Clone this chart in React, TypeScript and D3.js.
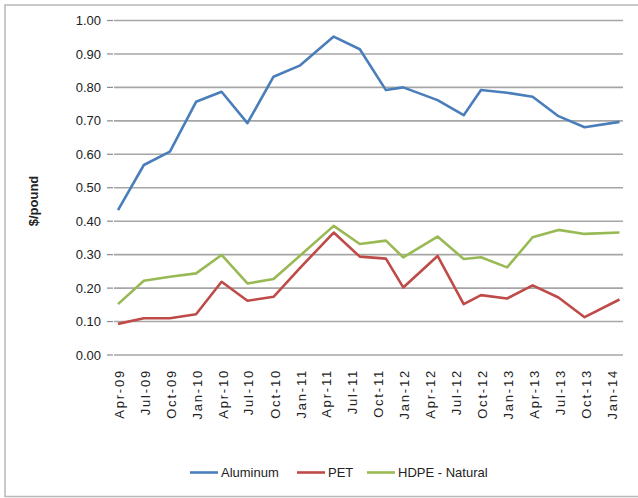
import { useEffect } from "react"
import * as d3 from "d3"

// sample dates (month of each reading)
const dates = [
  "2009-04", "2009-07", "2009-10", "2010-01", "2010-04", "2010-07", "2010-10",
  "2011-01", "2011-05", "2011-08", "2011-11", "2012-01", "2012-05", "2012-08",
  "2012-10", "2013-01", "2013-04", "2013-07", "2013-10", "2014-02",
]

const aluminum = [
  0.433, 0.568, 0.608, 0.757, 0.787, 0.693, 0.832, 0.865, 0.952, 0.914,
  0.792, 0.8, 0.762, 0.717, 0.792, 0.784, 0.772, 0.714, 0.681, 0.697,
]
const pet = [
  0.093, 0.11, 0.11, 0.122, 0.219, 0.162, 0.174, 0.259, 0.366, 0.294,
  0.288, 0.202, 0.296, 0.152, 0.179, 0.169, 0.208, 0.172, 0.113, 0.166,
]
const hdpe = [
  0.152, 0.222, 0.234, 0.244, 0.299, 0.214, 0.227, 0.296, 0.386, 0.332,
  0.342, 0.292, 0.354, 0.287, 0.292, 0.262, 0.352, 0.374, 0.362, 0.366,
]

const xTickLabels = [
  "Apr-09", "Jul-09", "Oct-09", "Jan-10", "Apr-10", "Jul-10", "Oct-10",
  "Jan-11", "Apr-11", "Jul-11", "Oct-11", "Jan-12", "Apr-12", "Jul-12",
  "Oct-12", "Jan-13", "Apr-13", "Jul-13", "Oct-13", "Jan-14",
]
const yTicks = [0, 0.1, 0.2, 0.3, 0.4, 0.5, 0.6, 0.7, 0.8, 0.9, 1.0]

const series = [
  { name: "Aluminum", values: aluminum, color: "#4a7ebb" },
  { name: "PET", values: pet, color: "#be4b48" },
  { name: "HDPE - Natural", values: hdpe, color: "#98b954" },
]

const WIDTH = 638
const HEIGHT = 498
const FONT = "'Liberation Sans', Arial, sans-serif"

export default function App() {
  useEffect(() => {
    document.body.style.margin = "0"
  }, [])

  const parseDate = d3.timeParse("%Y-%m")
  const parseTick = d3.timeParse("%b-%y")
  const pts = dates.map((d) => parseDate(d) as Date)

  const x = d3
    .scaleTime()
    .domain([pts[0], pts[pts.length - 1]])
    .range([118, 619.5])
  const y = d3.scaleLinear().domain([0, 1]).range([355, 20.5])

  const plotLeft = 114
  const plotRight = 623

  const line = d3
    .line<number>()
    .x((_, i) => x(pts[i]))
    .y((v) => y(v))

  // legend layout
  const legendItems = [
    { ...series[0], x: 190, w: 28 },
    { ...series[1], x: 297, w: 28 },
    { ...series[2], x: 367, w: 28 },
  ]

  return (
    <svg width={WIDTH} height={HEIGHT} style={{ display: "block", background: "#fff" }} fontFamily={FONT}>
      <rect x={5} y={5} width={WIDTH + 10} height={491.5} fill="#fff" stroke="#b8b8b8" strokeWidth={1.5} />

      {/* grid + y axis */}
      {yTicks.map((t) => (
        <g key={t}>
          <line x1={plotLeft} x2={plotRight} y1={y(t)} y2={y(t)} stroke="#a6a6a6" strokeWidth={1.6} />
          <line x1={107} x2={113} y1={y(t)} y2={y(t)} stroke="#8c8c8c" strokeWidth={1.2} />
          <text x={101} y={y(t)} dy="0.35em" textAnchor="end" fontSize={13} fill="#222">
            {d3.format(".2f")(t)}
          </text>
        </g>
      ))}

      {/* x labels */}
      {xTickLabels.map((lbl) => {
        const px = x(parseTick(lbl) as Date) + 1.5
        return (
          <text
            key={lbl}
            transform={`translate(${px},369) rotate(-90)`}
            dy="0.35em"
            textAnchor="end"
            fontSize={13}
            letterSpacing={1.8}
            fill="#222"
          >
            {lbl}
          </text>
        )
      })}

      {/* y title */}
      <text
        transform="translate(33,201) rotate(-90)"
        dy="0.35em"
        textAnchor="middle"
        fontSize={13}
        fontWeight="bold"
        fill="#222"
      >
        $/pound
      </text>

      {/* lines */}
      {series.map((s) => (
        <path
          key={s.name}
          d={line(s.values) || ""}
          fill="none"
          stroke={s.color}
          strokeWidth={2.6}
          strokeLinejoin="round"
        />
      ))}

      {/* legend */}
      {legendItems.map((s) => (
        <g key={s.name}>
          <line x1={s.x} x2={s.x + s.w} y1={472.5} y2={472.5} stroke={s.color} strokeWidth={2.6} />
          <text x={s.x + s.w + 3} y={472.5} dy="0.35em" fontSize={13} fill="#222">
            {s.name}
          </text>
        </g>
      ))}
    </svg>
  )
}
